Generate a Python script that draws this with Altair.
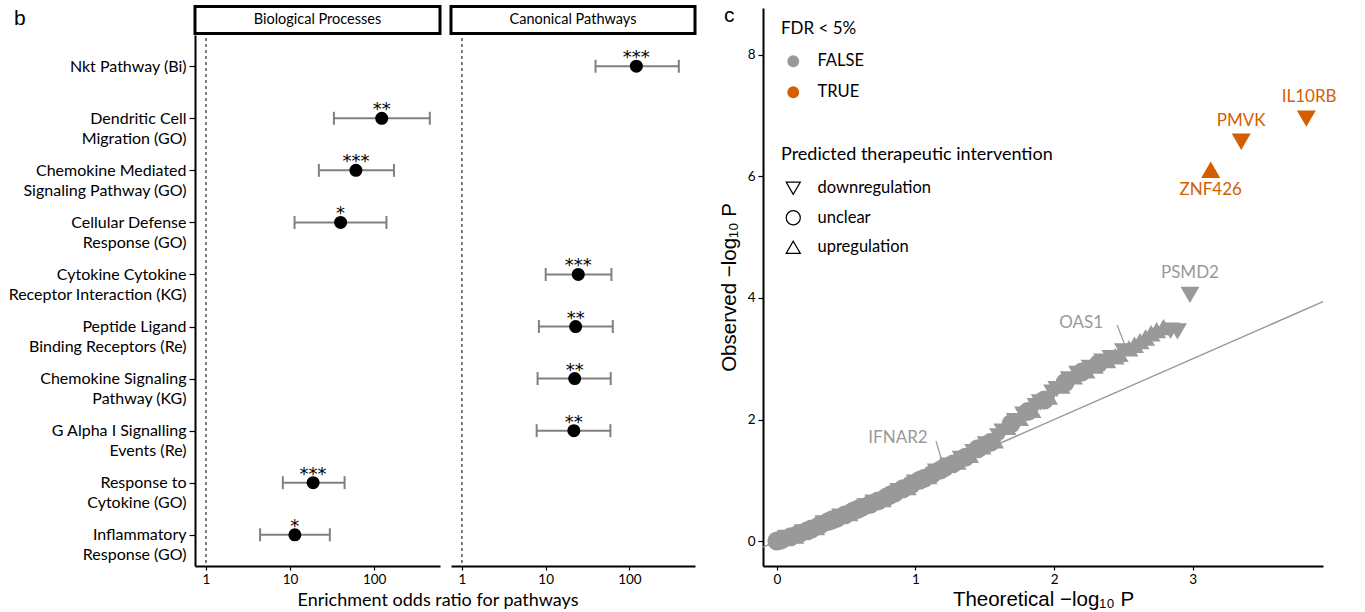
import altair as alt
import pandas as pd

# ---------------- panel b : pathway enrichment ----------------
pathways = [
    "Nkt Pathway (Bi)",
    "Dendritic Cell \nMigration (GO)",
    "Chemokine Mediated \nSignaling Pathway (GO)",
    "Cellular Defense \nResponse (GO)",
    "Cytokine Cytokine\nReceptor Interaction (KG)",
    "Peptide Ligand \nBinding Receptors (Re)",
    "Chemokine Signaling\nPathway (KG)",
    "G Alpha I Signalling \nEvents (Re)",
    "Response to \nCytokine (GO)",
    "Inflammatory \nResponse (GO)",
]
groups = ["Canonical Pathways", "Biological Processes", "Biological Processes",
          "Biological Processes", "Canonical Pathways", "Canonical Pathways",
          "Canonical Pathways", "Canonical Pathways", "Biological Processes",
          "Biological Processes"]
odds_ratio = [121, 123, 60.7, 39.9, 24.5, 22.8, 22.2, 21.7, 18.8, 11.4]
ci_low = [39.4, 33.2, 22.0, 11.3, 10.0, 8.3, 8.0, 7.8, 8.2, 4.4]
ci_high = [389, 459, 172, 140, 61, 63.3, 59.8, 59.3, 44.5, 29.7]
stars = ["***", "**", "***", "*", "***", "**", "**", "**", "***", "*"]
panels = ["Biological Processes", "Canonical Pathways"]
null_ratio = [1]

# ---------------- panel c : QQ plot ----------------
theo = [0.00, 0.02, 0.04, 0.07,
        0.10, 0.13, 0.16, 0.19, 0.22, 0.25, 0.28, 0.31, 0.34, 0.37,
        0.40, 0.43, 0.46, 0.49, 0.52, 0.55, 0.58, 0.61, 0.64, 0.67,
        0.70, 0.73, 0.76, 0.79, 0.82, 0.85, 0.88, 0.91, 0.94, 0.97,
        1.00, 1.03, 1.06, 1.09, 1.12, 1.15, 1.18, 1.21, 1.24, 1.27,
        1.30, 1.33, 1.36, 1.39, 1.42, 1.45, 1.48, 1.51, 1.54, 1.57,
        1.60, 1.63, 1.66, 1.69, 1.72, 1.75, 1.78, 1.81, 1.84, 1.87,
        1.90, 1.93, 1.96, 1.99, 2.02, 2.05, 2.08, 2.11, 2.14, 2.17,
        2.20, 2.23, 2.26, 2.29, 2.32, 2.35, 2.38, 2.41, 2.44, 2.47,
        2.50, 2.54, 2.58, 2.62, 2.66, 2.70, 2.74, 2.79, 2.84, 2.89]
obs = [0.00, 0.01, 0.03, 0.05,
       0.07, 0.09, 0.12, 0.14, 0.17, 0.20, 0.23, 0.26, 0.29, 0.32,
       0.35, 0.37, 0.40, 0.43, 0.46, 0.49, 0.52, 0.55, 0.57, 0.60,
       0.63, 0.66, 0.69, 0.72, 0.76, 0.79, 0.82, 0.86, 0.89, 0.93,
       0.96, 1.00, 1.03, 1.07, 1.10, 1.14, 1.17, 1.21, 1.24, 1.27,
       1.31, 1.35, 1.38, 1.42, 1.46, 1.52, 1.56, 1.59, 1.62, 1.66,
       1.72, 1.80, 1.88, 1.93, 1.97, 2.03, 2.08, 2.13, 2.16, 2.22,
       2.28, 2.32, 2.38, 2.44, 2.50, 2.56, 2.61, 2.66, 2.71, 2.75,
       2.78, 2.81, 2.85, 2.89, 2.92, 2.95, 2.98, 3.01, 3.04, 3.08,
       3.12, 3.17, 3.23, 3.29, 3.35, 3.42, 3.47, 3.52, 3.46, 3.45]
effect_codes = ("cccdcucdcc" "ucdcccdcuc" "ccdcdcuccc" "dcucdccucd" "ccdcudcudc"
                "udcudducdu" "dcuddcuddu" "cdudcuducd" "uduuduuuuu" "uudd")
effect_names = {"d": "downregulation", "c": "unclear", "u": "upregulation"}

hl_genes = ["PSMD2", "ZNF426", "PMVK", "IL10RB"]
hl_theo = [2.98, 3.13, 3.35, 3.82]
hl_obs = [4.05, 6.11, 6.57, 6.95]
hl_fdr = ["FALSE", "TRUE", "TRUE", "TRUE"]
hl_effect = ["downregulation", "upregulation", "downregulation", "downregulation"]

label_text = ["IL10RB", "PMVK", "ZNF426", "PSMD2", "OAS1", "IFNAR2"]
label_x = [3.84, 3.35, 3.13, 2.98, 2.195, 0.874]
label_y = [7.30, 6.91, 5.78, 4.41, 3.59, 1.70]
label_fdr = ["TRUE", "TRUE", "TRUE", "FALSE", "FALSE", "FALSE"]

seg_x = [2.455, 1.148]
seg_y = [3.556, 1.646]
seg_x2 = [2.513, 1.191]
seg_y2 = [3.21, 1.317]

diag_from = [-0.10]
diag_to = [3.94]

# ---------------- styling constants ----------------
FONT = "Lato"
GRAY = "#999999"
ORANGE = "#D55E00"
BAR_GRAY = "#808080"
PANEL_H = 558
PANEL_W = [245, 244]

df = pd.DataFrame({"pathway": pathways, "group": groups, "odds": odds_ratio,
                   "lo": ci_low, "hi": ci_high, "stars": stars})

x_scale = alt.Scale(type="log", domain=[0.74, 607], nice=False)
y_scale = alt.Scale(type="point", domain=pathways, range=[27, 558], padding=0.6)


def forest_panel(group, width, first):
    sub = df[df["group"] == group]
    if first:
        xaxis = alt.Axis(values=[1, 10, 100], format="~s", title="Enrichment odds ratio for pathways",
                         titleX=242.5, titleY=34, titleAlign="center", titleBaseline="middle",
                         titleFontSize=18, titleFont=FONT, titleFontWeight="normal",
                         labelFontSize=13.5, tickSize=4, domainWidth=2, labelPadding=2)
        yaxis = alt.Axis(title=None, labelExpr="split(datum.label, '\\n')", labelFontSize=16,
                         labelLineHeight=20, tickSize=6, labelPadding=3, domainWidth=2,
                         minExtent=195, maxExtent=195, labelFont=FONT, labelLimit=300)
    else:
        xaxis = alt.Axis(values=[1, 10, 100], format="~s", title=None,
                         labelFontSize=13.5, tickSize=4, domainWidth=2, labelPadding=2)
        yaxis = None

    def X(field):
        return alt.X(field, type="quantitative", scale=x_scale, axis=xaxis)

    Y = alt.Y("pathway:N", scale=y_scale, axis=yaxis, sort=pathways)

    dashed = alt.Chart(pd.DataFrame({"v": null_ratio})).mark_rule(
        color="black", strokeDash=[3, 3], strokeWidth=1).encode(x=X("v"))
    bars = alt.Chart(sub).mark_rule(color=BAR_GRAY, strokeWidth=2).encode(
        x=X("lo"), x2="hi", y=Y)
    cap_lo = alt.Chart(sub).mark_tick(color=BAR_GRAY, thickness=2, size=13, opacity=1).encode(
        x=X("lo"), y=Y)
    cap_hi = alt.Chart(sub).mark_tick(color=BAR_GRAY, thickness=2, size=13, opacity=1).encode(
        x=X("hi"), y=Y)
    dots = alt.Chart(sub).mark_circle(color="black", size=170, opacity=1).encode(
        x=X("odds"), y=Y)
    star_txt = alt.Chart(sub).mark_text(fontSize=18, font="DejaVu Sans", baseline="alphabetic",
                                        dy=-3, color="black").encode(
        x=X("odds"), y=Y, text="stars")
    strip = alt.Chart(pd.DataFrame({"label": [group]})).mark_rect(
        fill="white", stroke="black", strokeWidth=3).encode(
        x=alt.value(0), x2=alt.value(width), y=alt.value(-1.5), y2=alt.value(25.5))
    strip_txt = alt.Chart(pd.DataFrame({"label": [group]})).mark_text(
        fontSize=14.5, font=FONT, color="black", baseline="middle").encode(
        x=alt.value(width / 2), y=alt.value(12), text="label")
    layers = [dashed, bars, cap_lo, cap_hi, dots, star_txt, strip, strip_txt]
    if first:
        tag = alt.Chart(pd.DataFrame({"t": ["b"]})).mark_text(
            fontSize=21, font="Liberation Sans", align="left", baseline="alphabetic",
            color="black").encode(x=alt.value(-181), y=alt.value(17), text="t")
        layers.append(tag)
    return alt.layer(*layers).properties(width=width, height=PANEL_H)


bio = forest_panel(panels[0], PANEL_W[0], True)
canon = forest_panel(panels[1], PANEL_W[1], False)
left = alt.hconcat(bio, canon, spacing=11, bounds="flush").resolve_scale(
    x="independent", y="independent")

# ---------------- QQ chart ----------------
qq_df = pd.DataFrame({
    "theo": theo + hl_theo,
    "obs": obs + hl_obs,
    "fdr": ["FALSE"] * len(theo) + hl_fdr,
    "effect": [effect_names[c] for c in effect_codes] + hl_effect,
})
lab_df = pd.DataFrame({"gene": label_text, "x": label_x, "y": label_y, "fdr": label_fdr})
seg_df = pd.DataFrame({"x": seg_x, "y": seg_y, "x2": seg_x2, "y2": seg_y2})
diag_df = pd.DataFrame({"a": diag_from, "b": diag_to})

qx_scale = alt.Scale(domain=[-0.10, 3.94], nice=False, zero=False)
qy_scale = alt.Scale(domain=[-0.41, 8.77], nice=False, zero=False)
qx_axis = alt.Axis(values=[0, 1, 2, 3], title="Theoretical \u2212log\u2081\u2080 P",
                   titleFont="Liberation Sans", titleFontSize=20.5, titleFontWeight="normal",
                   labelFontSize=13.5, tickSize=4, domainWidth=2, labelPadding=2, titlePadding=4)
qy_axis = alt.Axis(values=[0, 2, 4, 6, 8], title="Observed \u2212log\u2081\u2080 P",
                   titleFont="Liberation Sans", titleFontSize=20.5, titleFontWeight="normal",
                   labelFontSize=13.5, tickSize=5, domainWidth=2, labelPadding=3, titlePadding=8)
color_scale = alt.Scale(domain=["FALSE", "TRUE"], range=[GRAY, ORANGE])
shape_scale = alt.Scale(domain=["downregulation", "unclear", "upregulation"],
                        range=["triangle-down", "circle", "triangle-up"])

diag = alt.Chart(diag_df).mark_rule(color=GRAY, strokeWidth=1.5).encode(
    x=alt.X("a:Q", scale=qx_scale, axis=qx_axis), y=alt.Y("a:Q", scale=qy_scale, axis=qy_axis),
    x2="b:Q", y2="b:Q")
pts = alt.Chart(qq_df).mark_point(filled=True, size=360, opacity=1, strokeWidth=0).encode(
    x=alt.X("theo:Q", scale=qx_scale, axis=qx_axis),
    y=alt.Y("obs:Q", scale=qy_scale, axis=qy_axis),
    color=alt.Color("fdr:N", scale=color_scale, legend=alt.Legend(
        title="FDR < 5%", orient="none", legendX=18, legendY=13, symbolType="circle",
        symbolSize=140, symbolStrokeWidth=0, titleFontSize=17, titleFont=FONT,
        titleFontWeight="normal", labelFontSize=16.5, labelFont=FONT, rowPadding=14,
        titlePadding=15, symbolOffset=4, labelOffset=16, titleLimit=500, labelLimit=300)),
    shape=alt.Shape("effect:N", scale=shape_scale, legend=alt.Legend(
        title="Predicted therapeutic intervention", orient="none", legendX=18, legendY=138,
        symbolSize=200, symbolFillColor="white", symbolStrokeColor="black",
        symbolStrokeWidth=1.2, titleFontSize=18, titleFont=FONT, titleFontWeight="normal",
        labelFontSize=16.5, labelFont=FONT, rowPadding=10.5, titlePadding=16, symbolOffset=4,
        labelOffset=16, titleLimit=500, labelLimit=300)),
)
segs = alt.Chart(seg_df).mark_rule(color=GRAY, strokeWidth=1.2).encode(
    x=alt.X("x:Q", scale=qx_scale, axis=qx_axis), y=alt.Y("y:Q", scale=qy_scale, axis=qy_axis),
    x2="x2:Q", y2="y2:Q")
labs = alt.Chart(lab_df).mark_text(fontSize=17, font=FONT, baseline="middle").encode(
    x=alt.X("x:Q", scale=qx_scale, axis=qx_axis), y=alt.Y("y:Q", scale=qy_scale, axis=qy_axis),
    text="gene:N", color=alt.Color("fdr:N", scale=color_scale, legend=None))
ctag = alt.Chart(pd.DataFrame({"t": ["c"]})).mark_text(
    fontSize=21, font="Liberation Sans", align="left", baseline="alphabetic",
    color="black").encode(x=alt.value(-39), y=alt.value(14), text="t")

qq = alt.layer(diag, pts, segs, labs, ctag).properties(width=560, height=558)

chart = alt.hconcat(left, qq, spacing=22).resolve_legend(
    color="independent", shape="independent").properties(
    padding={"left": 0, "top": 5, "right": 5, "bottom": 5}
).configure(font=FONT).configure_view(stroke=None).configure_axis(
    grid=False, domainColor="black", tickColor="black", labelColor="black",
    titleColor="black", labelFont=FONT, tickWidth=1.2
).configure_legend(labelColor="black", titleColor="black", padding=0)

chart.save("out.html", embed_options={"renderer": "svg", "actions": False})
